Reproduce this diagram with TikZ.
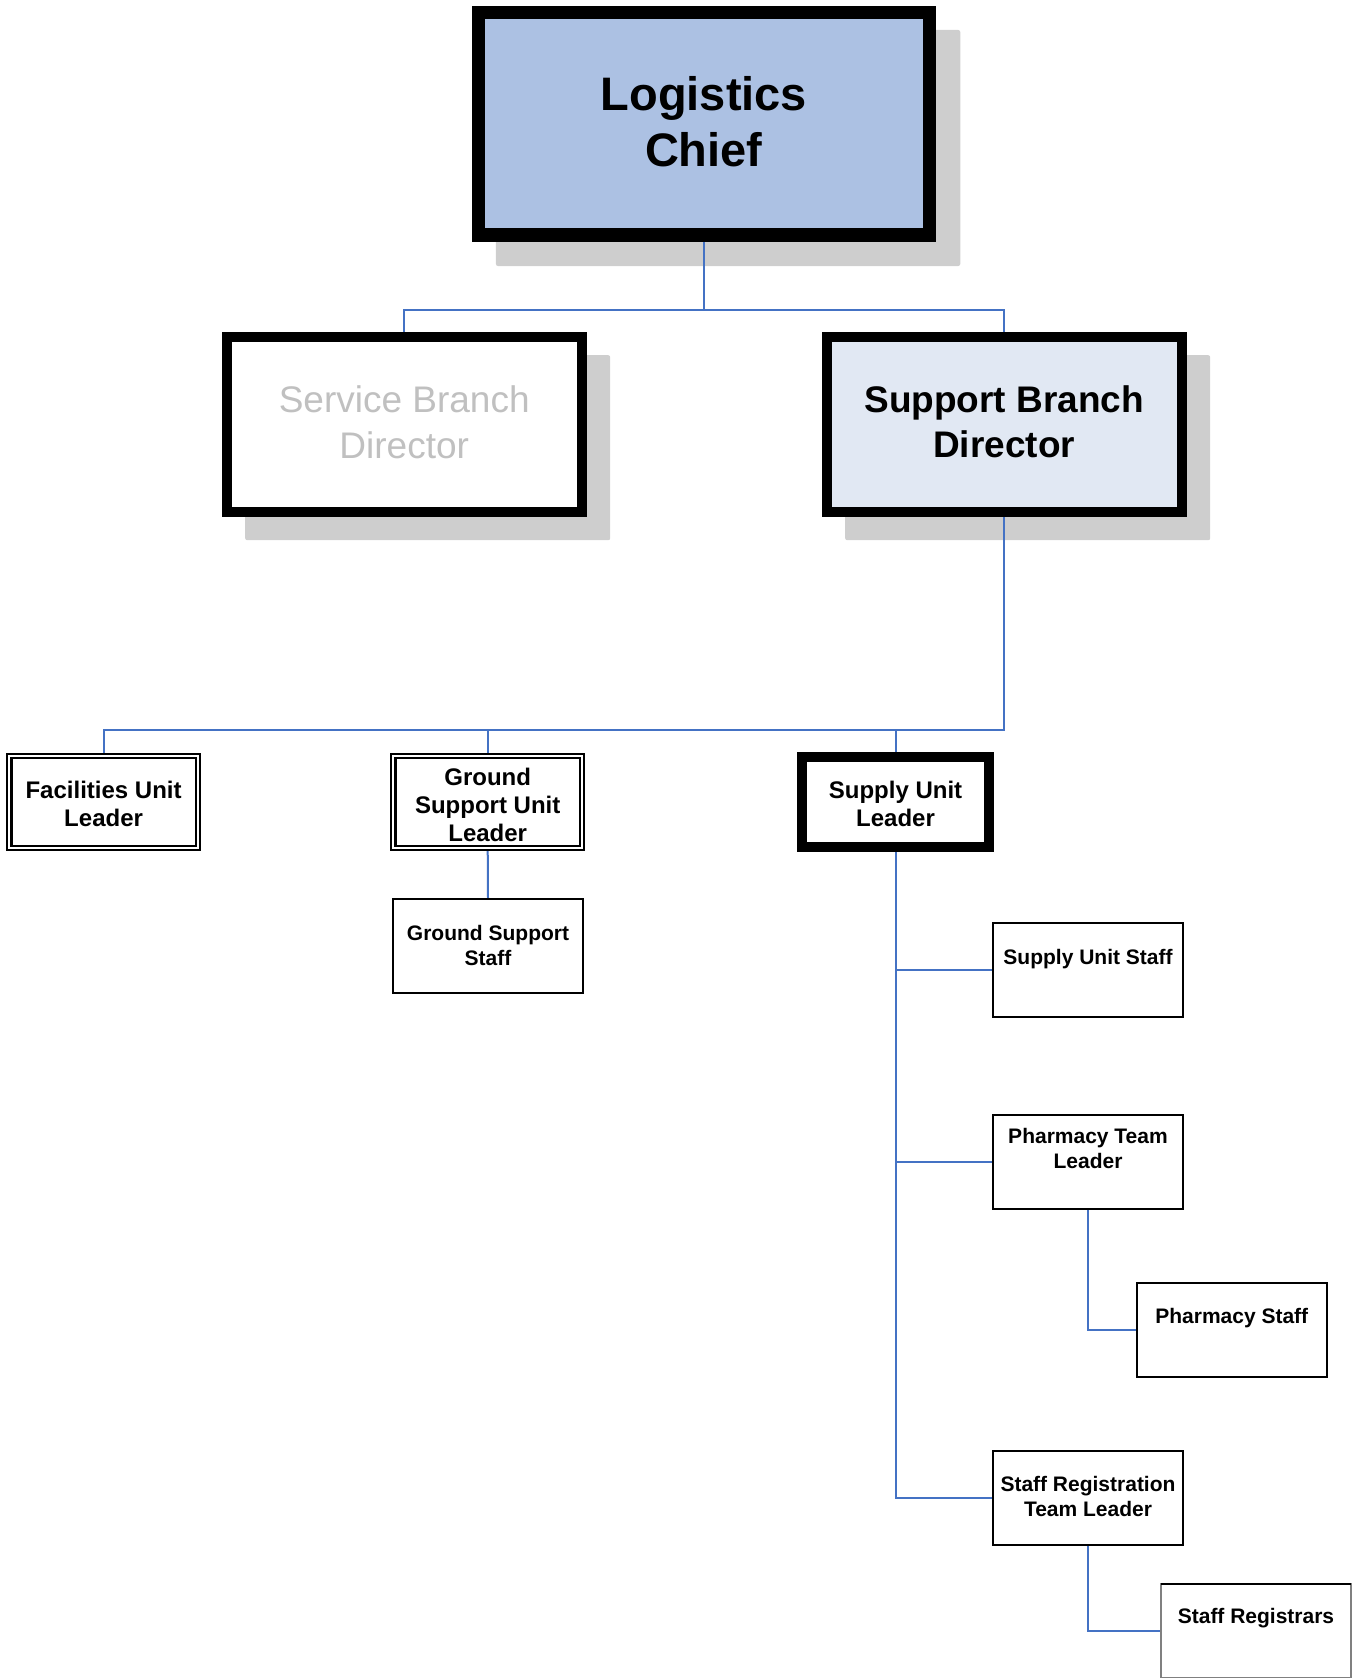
\documentclass[tikz,border=0pt]{standalone}
\usepackage{fontspec}
\setmainfont{Liberation Sans}
\usetikzlibrary{calc}
\definecolor{lcfill}{RGB}{172,193,227}
\definecolor{sbfill}{RGB}{225,232,243}
\definecolor{shadowgray}{RGB}{206,206,206}
\definecolor{connblue}{RGB}{68,114,196}
\definecolor{fadedtext}{RGB}{192,192,192}
\pgfdeclarelayer{shadowlayer}
\pgfdeclarelayer{connlayer}
\pgfsetlayers{shadowlayer,connlayer,main}
\newcommand{\mlines}[1]{\begin{tabular}[t]{@{}c@{}}#1\end{tabular}}
\begin{document}
\begin{tikzpicture}[x=1pt,y=-1pt,
  box/.style={rectangle, outer sep=0pt, inner sep=0pt, draw=black},
  chiefbox/.style={box, line width=13.3pt, fill=lcfill, minimum width=451pt, minimum height=222.7pt},
  branchbox/.style={box, line width=10pt, minimum width=355pt, minimum height=175pt},
  unitbox/.style={box, line width=10pt, fill=white, minimum width=187pt, minimum height=90pt},
  dblbox/.style={box, line width=2.2pt, double=white, double distance=2pt, fill=white, minimum width=188.6pt, minimum height=91.9pt},
  smallbox/.style={box, line width=2pt, fill=white, minimum width=190pt, minimum height=94pt},
  lbl/.style={inner sep=0pt, outer sep=0pt, anchor=base},
  chieffont/.style={font=\fontsize{47}{56.7}\selectfont\bfseries},
  branchfont/.style={font=\fontsize{37}{45.4}\selectfont},
  branchboldfont/.style={font=\fontsize{37}{45.2}\selectfont\bfseries},
  unitfont/.style={font=\fontsize{24}{28.3}\selectfont\bfseries},
  smallfont/.style={font=\fontsize{21}{24.8}\selectfont\bfseries},
  conn/.style={draw=connblue, line width=2pt},
  shadowfill/.style={fill=shadowgray, rounded corners=2pt}]
\useasboundingbox (0,0) rectangle (1357,1678);

% boxes
\node[chiefbox] (LC) at (703.8,123.7) {};
\node[branchbox, fill=white] (SB) at (404.2,424.2) {};
\node[branchbox, fill=sbfill] (SuB) at (1004.2,424.2) {};
\node[dblbox] (Fac) at (103.6,801.85) {};
\node[dblbox] (GSUL) at (487.7,801.85) {};
\node[unitbox] (SUL) at (895.5,802) {};
\node[smallbox] (GSS) at (488,945.5) {};
\node[smallbox] (SUS) at (1088,970) {};
\node[smallbox] (PTL) at (1088,1162) {};
\node[smallbox] (PS) at (1231.8,1329.7) {};
\node[smallbox] (SRTL) at (1088,1498) {};
\node[smallbox, draw=black!50] (SR) at (1256,1631) {};
\draw[line width=2pt] (SR.north west) -- (SR.north east);

% labels
\node[lbl, chieffont] (LCt) at (703.8,110) {\mlines{Logistics\\Chief}};
\node[lbl, branchfont, text=fadedtext] (SBt) at (404.2,412.7) {\mlines{Service Branch\\Director}};
\node[lbl, branchboldfont] (SuBt) at (1004.2,412.7) {\mlines{Support Branch\\Director}};
\node[lbl, unitfont] (Fact) at (103.6,798.3) {\mlines{Facilities Unit\\Leader}};
\node[lbl, unitfont] (GSULt) at (487.7,785) {\mlines{Ground\\Support Unit\\Leader}};
\node[lbl, unitfont] (SULt) at (895.5,798.3) {\mlines{Supply Unit\\Leader}};
\node[lbl, smallfont] (GSSt) at (488,940.7) {\mlines{Ground Support\\Staff}};
\node[lbl, smallfont] (SUSt) at (1088,964.3) {Supply Unit Staff};
\node[lbl, smallfont] (PTLt) at (1088,1143.3) {\mlines{Pharmacy Team\\Leader}};
\node[lbl, smallfont] (PSt) at (1231.8,1323.3) {Pharmacy Staff};
\node[lbl, smallfont] (SRTLt) at (1088,1491.7) {\mlines{Staff Registration\\Team Leader}};
\node[lbl, smallfont] (SRt) at (1256,1623.3) {Staff Registrars};

% connectors
\coordinate (busA) at (703.8,310);
\coordinate (busB) at (1004.2,730);
\begin{pgfonlayer}{connlayer}
\draw[conn] (LC.south) -- (busA) -| (SB.north);
\draw[conn] (busA) -| (SuB.north);
\draw[conn] (SuB.south) -- (busB) -| (Fac.north);
\draw[conn] (busB) -| (GSUL.north);
\draw[conn] (busB) -| (SUL.north);
\draw[conn] (GSUL.south) -- (GSS.north);
\draw[conn] (SUL.south) |- (SUS.west);
\draw[conn] (SUL.south) |- (PTL.west);
\draw[conn] (SUL.south) |- (SRTL.west);
\draw[conn] (PTL.south) |- (PS.west);
\draw[conn] (SRTL.south) |- (SR.west);
\end{pgfonlayer}

% shadows
\begin{pgfonlayer}{shadowlayer}
\fill[shadowfill] ($(LC.north west)+(17.65,17.65)$) rectangle ($(LC.south east)+(30.95,30.95)$);
\fill[shadowfill] ($(SB.north west)+(18.5,18.5)$) rectangle ($(SB.south east)+(28.5,28.5)$);
\fill[shadowfill] ($(SuB.north west)+(18.5,18.5)$) rectangle ($(SuB.south east)+(28.5,28.5)$);
\end{pgfonlayer}
\end{tikzpicture}
\end{document}
